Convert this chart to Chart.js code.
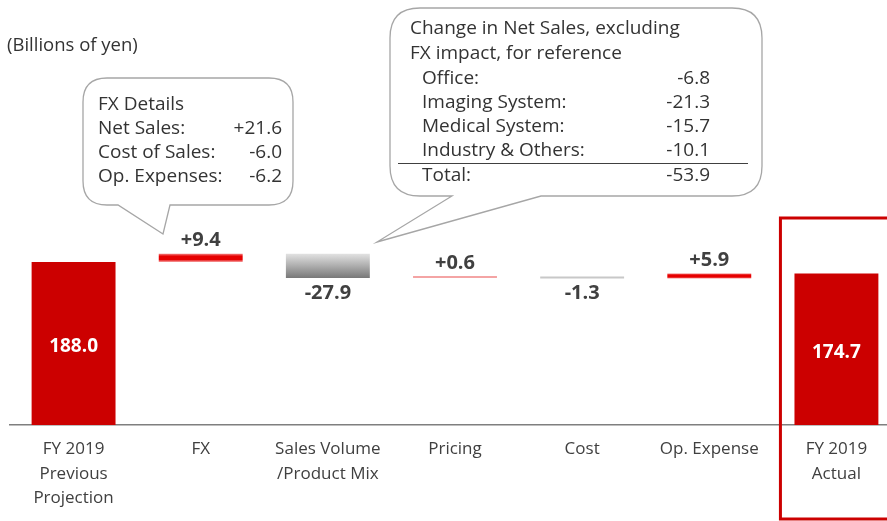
<!DOCTYPE html>
<html>
<head>
<meta charset="utf-8">
<script src="https://cdn.jsdelivr.net/npm/chart.js@4"></script>
<style>
  html, body { margin: 0; padding: 0; background: #ffffff; overflow: hidden; }
  /* a little wider than the window: the last category runs off the right edge */
  #wrap { position: relative; width: 900px; height: 521px; }
</style>
</head>
<body>
<div id="wrap"><canvas id="waterfall"></canvas></div>
<script>
// ---------------------------------------------------------------------------
// Data (billions of yen)
// ---------------------------------------------------------------------------
const categories = [
    ['FY 2019', 'Previous', 'Projection'],
    'FX',
    ['Sales Volume', '/Product Mix'],
    'Pricing',
    'Cost',
    'Op. Expense',
    ['FY 2019', 'Actual']
];
const startValue = 188.0;
const deltas = [9.4, -27.9, 0.6, -1.3, 5.9];
const endValue = 174.7;

const fxDetails = [
    ['Net Sales:', '+21.6'],
    ['Cost of Sales:', '-6.0'],
    ['Op. Expenses:', '-6.2']
];
const netSalesRows = [
    ['Office:', '-6.8'],
    ['Imaging System:', '-21.3'],
    ['Medical System:', '-15.7'],
    ['Industry & Others:', '-10.1']
];
const netSalesTotal = ['Total:', '-53.9'];

// ---------------------------------------------------------------------------
// Build floating ranges for the waterfall
// ---------------------------------------------------------------------------
const ranges = [[0, startValue]];
let running = startValue;
deltas.forEach(d => {
    ranges.push([running, running + d]);
    running += d;
});
ranges.push([0, endValue]);

const labelTexts = [startValue.toFixed(1)]
    .concat(deltas.map(d => (d > 0 ? '+' : '') + d.toFixed(1)))
    .concat([endValue.toFixed(1)]);

const FONT = '"Open Sans", "Noto Sans", sans-serif';
const TEXT = '#333333';

function barFill(context) {
    const i = context.dataIndex;
    const chart = context.chart;
    const yScale = chart.scales.y;
    if (i === 0 || i === ranges.length - 1) return '#cc0000';
    const d = deltas[i - 1];
    if (i === 3) return '#f4a4a4';
    if (i === 4) return '#c8c8c8';
    if (!chart.chartArea || !yScale) return d > 0 ? '#e60000' : '#999999';
    const [a, b] = ranges[i];
    const top = yScale.getPixelForValue(Math.max(a, b));
    const bottom = yScale.getPixelForValue(Math.min(a, b));
    const g = chart.ctx.createLinearGradient(0, top, 0, bottom + 0.01);
    if (d > 0) {
        g.addColorStop(0, '#f38080');
        g.addColorStop(0.3, '#e60000');
        g.addColorStop(0.7, '#e60000');
        g.addColorStop(1, '#f6a0a0');
    } else {
        g.addColorStop(0, '#e2e2e2');
        g.addColorStop(1, '#787878');
    }
    return g;
}

// ---------------------------------------------------------------------------
// Callout bubbles and labels
// ---------------------------------------------------------------------------
function bubblePath(ctx, x, y, w, h, r, tail) {
    const b = y + h;
    ctx.beginPath();
    ctx.moveTo(x + r, y);
    ctx.lineTo(x + w - r, y);
    ctx.quadraticCurveTo(x + w, y, x + w, y + r);
    ctx.lineTo(x + w, b - r);
    ctx.quadraticCurveTo(x + w, b, x + w - r, b);
    ctx.lineTo(tail.right, b);
    ctx.lineTo(tail.tipX, tail.tipY);
    ctx.lineTo(tail.left, b);
    ctx.lineTo(x + r, b);
    ctx.quadraticCurveTo(x, b, x, b - r);
    ctx.lineTo(x, y + r);
    ctx.quadraticCurveTo(x, y, x + r, y);
    ctx.closePath();
    ctx.fillStyle = '#ffffff';
    ctx.fill();
    ctx.strokeStyle = '#a6a6a6';
    ctx.lineWidth = 1.3;
    ctx.stroke();
}

const annotationsPlugin = {
    id: 'annotations',
    afterDatasetsDraw(chart) {
        const ctx = chart.ctx;
        const meta = chart.getDatasetMeta(0);
        ctx.save();

        // unit note
        ctx.font = '18.5px ' + FONT;
        ctx.fillStyle = TEXT;
        ctx.textBaseline = 'middle';
        ctx.textAlign = 'left';
        ctx.fillText('(Billions of yen)', 7, 46);

        // bar labels
        meta.data.forEach((bar, i) => {
            const top = Math.min(bar.y, bar.base);
            const bottom = Math.max(bar.y, bar.base);
            ctx.textAlign = 'center';
            ctx.textBaseline = 'middle';
            if (i === 0 || i === meta.data.length - 1) {
                ctx.font = 'bold 19px ' + FONT;
                ctx.fillStyle = '#ffffff';
                ctx.fillText(labelTexts[i], bar.x, (top + bottom) / 2 + 3);
            } else {
                ctx.font = 'bold 20px ' + FONT;
                ctx.fillStyle = '#404040';
                const d = deltas[i - 1];
                const ty = d > 0 ? top - 13 : bottom + 15;
                ctx.fillText(labelTexts[i], bar.x, ty);
            }
        });

        // highlight frame around the actual result
        const last = meta.data[meta.data.length - 1];
        ctx.strokeStyle = '#cc0000';
        ctx.lineWidth = 3;
        ctx.strokeRect(last.x - 56, 218, 120, 301);

        // FX details bubble
        bubblePath(ctx, 83, 78, 210, 127, 24, { right: 170, tipX: 163, tipY: 234, left: 118 });
        ctx.fillStyle = TEXT;
        ctx.font = '19px ' + FONT;
        ctx.textBaseline = 'middle';
        ctx.textAlign = 'left';
        ctx.fillText('FX Details', 98, 105);
        fxDetails.forEach((row, k) => {
            const y = 129 + k * 24;
            ctx.textAlign = 'left';
            ctx.fillText(row[0], 98, y);
            ctx.textAlign = 'right';
            ctx.fillText(row[1], 282, y);
        });

        // net sales breakdown bubble
        bubblePath(ctx, 390, 8, 372, 188, 30, { right: 541, tipX: 377, tipY: 242, left: 452 });
        ctx.fillStyle = TEXT;
        ctx.textAlign = 'left';
        ctx.fillText('Change in Net Sales, excluding', 410, 29);
        ctx.fillText('FX impact, for reference', 410, 54);
        netSalesRows.forEach((row, k) => {
            const y = 79 + k * 24;
            ctx.textAlign = 'left';
            ctx.fillText(row[0], 422, y);
            ctx.textAlign = 'right';
            ctx.fillText(row[1], 710, y);
        });
        ctx.strokeStyle = '#404040';
        ctx.lineWidth = 1;
        ctx.beginPath();
        ctx.moveTo(398, 163.5);
        ctx.lineTo(748, 163.5);
        ctx.stroke();
        ctx.textAlign = 'left';
        ctx.fillText(netSalesTotal[0], 422, 176);
        ctx.textAlign = 'right';
        ctx.fillText(netSalesTotal[1], 710, 176);

        ctx.restore();
    }
};

// ---------------------------------------------------------------------------
// Chart
// ---------------------------------------------------------------------------
new Chart(document.getElementById('waterfall'), {
    type: 'bar',
    data: {
        labels: categories,
        datasets: [{
            data: ranges,
            backgroundColor: barFill,
            borderWidth: 0,
            borderSkipped: false,
            minBarLength: 2,
            barPercentage: 0.66,
            categoryPercentage: 1
        }]
    },
    options: {
        responsive: true,
        maintainAspectRatio: false,
        animation: false,
        layout: { padding: { left: 10, right: 0, top: 0, bottom: 0 } },
        plugins: {
            legend: { display: false },
            tooltip: { enabled: false }
        },
        scales: {
            x: {
                grid: { display: false, drawTicks: false },
                border: { display: true, color: '#7f7f7f', width: 1.5 },
                ticks: {
                    color: '#404040',
                    font: { family: FONT, size: 17, lineHeight: 1.45 },
                    padding: 12,
                    maxRotation: 0,
                    autoSkip: false
                },
                afterFit: s => { s.height = 96; }
            },
            y: {
                display: false,
                min: 0,
                max: 490
            }
        }
    },
    plugins: [annotationsPlugin]
});
</script>
</body>
</html>
